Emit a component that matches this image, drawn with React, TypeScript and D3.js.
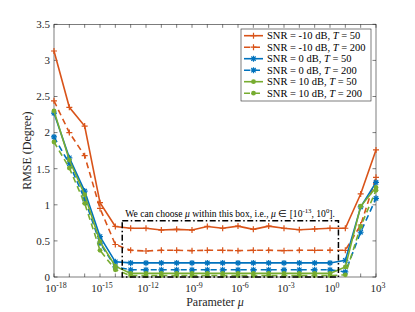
import React from 'react'
import * as d3 from 'd3'

// decades of mu, 10^-18 ... 10^3
const exponents = [-18, -17, -16, -15, -14, -13, -12, -11, -10, -9, -8, -7, -6, -5, -4, -3, -2, -1, 0, 1, 2, 3]

const snrM10T50 = [3.13, 2.35, 2.09, 1.03, 0.70, 0.675, 0.675, 0.65, 0.66, 0.65, 0.70, 0.675, 0.705, 0.66, 0.705, 0.675, 0.655, 0.665, 0.675, 0.675, 1.15, 1.76]
const snrM10T200 = [2.44, 2.0, 1.68, 0.95, 0.45, 0.37, 0.36, 0.37, 0.37, 0.365, 0.37, 0.37, 0.365, 0.37, 0.37, 0.365, 0.37, 0.37, 0.37, 0.37, 0.72, 1.38]
const snr0T50 = [2.27, 1.65, 1.19, 0.56, 0.21, 0.195, 0.195, 0.195, 0.195, 0.195, 0.195, 0.195, 0.195, 0.195, 0.195, 0.195, 0.195, 0.195, 0.195, 0.23, 0.97, 1.31]
const snr0T200 = [1.94, 1.57, 1.08, 0.47, 0.14, 0.10, 0.10, 0.10, 0.10, 0.10, 0.10, 0.10, 0.10, 0.10, 0.10, 0.10, 0.10, 0.10, 0.10, 0.07, 0.62, 1.09]
const snr10T50 = [2.30, 1.62, 1.14, 0.49, 0.15, 0.05, 0.05, 0.05, 0.05, 0.05, 0.05, 0.05, 0.05, 0.05, 0.05, 0.05, 0.05, 0.05, 0.05, 0.14, 0.98, 1.24]
const snr10T200 = [1.87, 1.51, 1.02, 0.37, 0.10, 0.02, 0.02, 0.02, 0.02, 0.02, 0.02, 0.02, 0.02, 0.02, 0.02, 0.02, 0.02, 0.02, 0.02, 0.03, 0.70, 1.20]

const yTicks = [0, 0.5, 1, 1.5, 2, 2.5, 3, 3.5]
const xLabelExps = [-18, -15, -12, -9, -6, -3, 0, 3]

// the box drawn round the flat region
const boxExps = [-13.55, 0.55]
const boxTop = 0.78

const orange = '#D95319', blue = '#0072BD', green = '#77AC30'

const series = [
  { snr: '-10', T: '50', values: snrM10T50, color: orange, dashed: false, marker: 'plus' },
  { snr: '-10', T: '200', values: snrM10T200, color: orange, dashed: true, marker: 'plus' },
  { snr: '0', T: '50', values: snr0T50, color: blue, dashed: false, marker: 'star' },
  { snr: '0', T: '200', values: snr0T200, color: blue, dashed: true, marker: 'star' },
  { snr: '10', T: '50', values: snr10T50, color: green, dashed: false, marker: 'dot' },
  { snr: '10', T: '200', values: snr10T200, color: green, dashed: true, marker: 'dot' },
]

const FONT = '"Liberation Serif", "Times New Roman", serif'
const AX = '#262626'

function Marker({ type, x, y, color }: { type: string, x: number, y: number, color: string }) {
  if (type === 'dot') return <circle cx={x} cy={y} r={2.4} fill={color} />
  const d = type === 'plus'
    ? 'M-3,0H3M0,-3V3'
    : 'M-3,0H3M0,-3V3M-2.2,-2.2L2.2,2.2M-2.2,2.2L2.2,-2.2'
  return <path d={d} transform={`translate(${x},${y})`} stroke={color} strokeWidth={1.2} fill="none" />
}

function Pow({ x, y, exp, size, anchor = 'middle' }: any) {
  return (
    <text x={x} y={y} fontSize={size} textAnchor={anchor} fontFamily={FONT} fill={AX}>
      10<tspan dy={-4} fontSize={size * 0.72}>{exp}</tspan>
    </text>
  )
}

export default function App() {
  const width = 415, height = 312
  const left = 54, right = 376, top = 24.3, bottom = 277

  const x = d3.scaleLog().domain([1e-18, 1e3]).range([left, right])
  const y = d3.scaleLinear().domain([0, 3.5]).range([bottom, top])

  const line = d3.line<number>()
    .x((_, i) => x(Math.pow(10, exponents[i])))
    .y(d => y(d))

  const tl = 3.5
  const bx0 = x(Math.pow(10, boxExps[0])), bx1 = x(Math.pow(10, boxExps[1]))
  const by0 = y(boxTop), by1 = y(0)

  const legX = 241, legY = 29, legW = 130, legH = 72

  return (
    <svg width={width} height={height} style={{ position: 'absolute', left: 0, top: 0, background: '#fff' }}>
      {/* axes box */}
      <rect x={left} y={top} width={right - left} height={bottom - top} fill="none" stroke={AX} strokeWidth={0.6} />
      {exponents.map(e => {
        const xx = x(Math.pow(10, e))
        return (
          <g key={'xt' + e} stroke={AX} strokeWidth={0.6}>
            <line x1={xx} x2={xx} y1={bottom} y2={bottom - tl} />
            <line x1={xx} x2={xx} y1={top} y2={top + tl} />
          </g>
        )
      })}
      {yTicks.map(t => (
        <g key={'yt' + t} stroke={AX} strokeWidth={0.6}>
          <line x1={left} x2={left + tl} y1={y(t)} y2={y(t)} />
          <line x1={right} x2={right - tl} y1={y(t)} y2={y(t)} />
        </g>
      ))}
      {yTicks.map(t => (
        <text key={'yl' + t} x={left - 4} y={y(t) + 3.8} fontSize={11} textAnchor="end" fontFamily={FONT} fill={AX}>{t}</text>
      ))}
      {xLabelExps.map(e => (
        <Pow key={'xl' + e} x={x(Math.pow(10, e)) + 2} y={bottom + 15} exp={e} size={11} />
      ))}
      <text x={(left + right) / 2} y={bottom + 29} fontSize={12} textAnchor="middle" fontFamily={FONT} fill={AX}>
        Parameter <tspan fontStyle="italic">μ</tspan>
      </text>
      <text transform={`translate(31,${(top + bottom) / 2}) rotate(-90)`} fontSize={12} textAnchor="middle" fontFamily={FONT} fill={AX}>
        RMSE (Degree)
      </text>

      {/* series */}
      {series.map((s, i) => (
        <g key={'s' + i}>
          <path d={line(s.values) || ''} fill="none" stroke={s.color} strokeWidth={1.6}
            strokeDasharray={s.dashed ? '6 4' : undefined} />
          {s.values.map((v, j) => (
            <Marker key={j} type={s.marker} x={x(Math.pow(10, exponents[j]))} y={y(v)} color={s.color} />
          ))}
        </g>
      ))}

      {/* selection box */}
      <rect x={bx0} y={by0} width={bx1 - bx0} height={by1 - by0} fill="none" stroke="#000" strokeWidth={1.5}
        strokeDasharray="6 2.5 1.5 2.5" />
      <text x={bx0 + 3} y={by0 - 4} fontSize={9.6} fontFamily={FONT} fill="#000">
        We can choose <tspan fontStyle="italic">μ</tspan> within this box, i.e., <tspan fontStyle="italic">μ</tspan> ∈ [10<tspan dy={-3.5} fontSize={6.8}>-13</tspan><tspan dy={3.5}>, 10</tspan><tspan dy={-3.5} fontSize={6.8}>0</tspan><tspan dy={3.5}>].</tspan>
      </text>

      {/* legend */}
      <rect x={legX} y={legY} width={legW} height={legH} fill="#fff" stroke={AX} strokeWidth={0.6} />
      {series.map((s, i) => {
        const ly = legY + 6.7 + i * 11.5
        return (
          <g key={'l' + i}>
            <line x1={legX + 3} x2={legX + 22} y1={ly} y2={ly} stroke={s.color} strokeWidth={1.6}
              strokeDasharray={s.dashed ? '6 4' : undefined} />
            <Marker type={s.marker} x={legX + 12.5} y={ly} color={s.color} />
            <text x={legX + 26} y={ly + 3.5} fontSize={10.5} fontFamily={FONT} fill="#000">
              SNR = {s.snr} dB, <tspan fontStyle="italic">T</tspan> = {s.T}
            </text>
          </g>
        )
      })}
    </svg>
  )
}
